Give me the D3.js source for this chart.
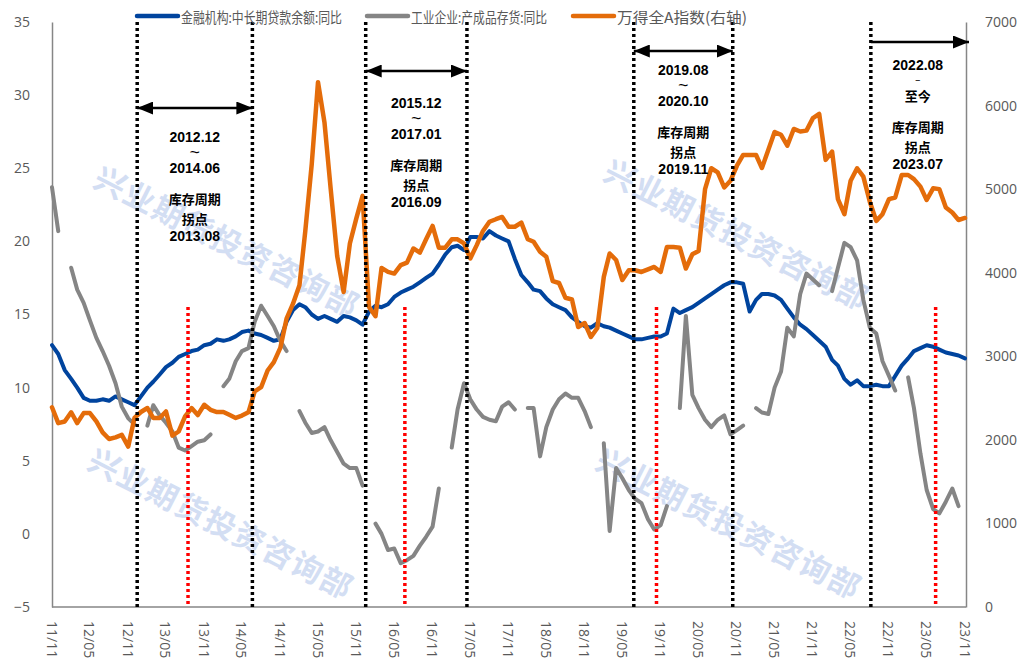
<!DOCTYPE html>
<html>
<head>
<meta charset="utf-8">
<script src="https://cdn.jsdelivr.net/npm/d3@7"></script>
<style>
  html, body { margin: 0; padding: 0; background: #ffffff; }
  svg { display: block; }
</style>
</head>
<body>
<svg id="chart" width="1023" height="664"></svg>
<script>
// 月度数据：2011-11 至 2023-11
const startMonth = new Date(2011, 10, 1);
const endMonth = new Date(2023, 10, 1);

// 金融机构:中长期贷款余额:同比 (%)
const loanGrowth = [
  12.9,12.3,11.2,10.6,10.0,9.3,9.1,9.1,9.2,9.1,
  9.4,9.2,9.0,8.8,9.4,10.0,10.4,10.9,11.4,11.7,
  12.1,12.3,12.5,12.6,12.9,13.0,13.3,13.2,13.3,13.5,
  13.8,13.9,13.7,13.6,13.4,13.2,13.3,14.5,15.3,15.7,
  15.5,15.0,14.7,14.9,14.7,14.5,14.9,14.8,14.6,14.3,
  15.2,15.6,15.5,15.7,16.2,16.5,16.7,16.9,17.2,17.5,
  17.8,18.4,19.1,19.6,19.7,19.4,20.3,20.3,20.2,20.7,
  20.4,20.2,20.0,18.8,17.7,17.2,16.7,16.6,16.1,15.7,
  15.5,15.3,14.8,14.5,14.2,14.1,14.4,14.2,14.1,13.9,
  13.7,13.5,13.3,13.3,13.4,13.5,13.5,13.7,15.4,15.1,
  15.3,15.5,15.8,16.1,16.4,16.7,17.0,17.2,17.2,17.1,
  15.2,16.0,16.4,16.4,16.3,16.0,15.4,14.8,14.3,14.0,
  13.6,13.2,12.8,11.9,11.5,10.6,10.2,10.5,10.1,10.1,
  10.2,10.1,10.1,10.8,11.5,12.0,12.5,12.7,12.9,12.8,
  12.6,12.4,12.3,12.2,12.0
];

// 工业企业:产成品存货:同比 (%)，1月无数据
const inventoryGrowth = [
  23.7,20.7,null,18.2,16.7,15.8,14.6,13.4,12.5,11.5,
  10.3,8.7,7.9,7.5,null,7.4,8.8,8.1,7.6,7.0,
  5.9,5.7,6.0,6.3,6.4,6.8,null,10.1,10.6,11.8,
  12.5,12.7,14.5,15.6,14.9,14.2,13.2,12.5,null,8.4,
  7.6,6.9,7.0,7.3,6.4,5.6,4.8,4.5,4.5,3.3,
  null,0.7,0.0,-1.1,-1.0,-2.0,-1.8,-1.5,-0.8,-0.2,
  0.5,3.1,null,5.9,8.5,10.3,9.2,8.5,8.0,7.8,
  7.7,8.7,9.0,8.5,null,8.6,8.6,5.3,7.3,8.5,
  9.2,9.6,9.3,9.3,8.4,7.3,null,6.2,0.2,4.5,
  3.8,3.0,2.4,2.1,1.0,0.3,0.6,1.9,null,8.6,
  14.9,9.5,8.6,7.8,7.3,7.8,8.1,6.8,7.1,7.4,
  null,8.6,8.3,8.2,10.0,11.1,14.1,13.5,16.4,17.8,
  17.4,17.0,null,16.6,18.2,19.9,19.6,18.7,16.0,14.1,
  13.7,11.8,10.8,9.8,null,10.7,8.6,5.5,3.0,1.7,
  1.4,2.2,3.1,1.9,null
];

// 万得全A指数（右轴）
const windAIndex = [
  2390,2200,2220,2330,2200,2320,2320,2220,2090,2010,
  2030,2060,1920,2262,2333,2381,2262,2262,2340,2050,
  2100,2280,2381,2297,2420,2360,2333,2333,2300,2262,
  2290,2330,2580,2630,2830,2930,3100,3450,3630,3850,
  4500,5300,6280,5800,5000,4200,3770,4350,4650,4920,
  3590,3480,4057,4010,3990,4090,4120,4290,4240,4400,
  4560,4300,4300,4400,4400,4350,4170,4330,4500,4610,
  4640,4667,4550,4550,4600,4400,4370,4250,4190,3900,
  3877,3700,3680,3350,3398,3231,3338,3950,4230,4152,
  3913,4030,4030,4009,4040,4069,4009,4308,4308,4300,
  4050,4220,4260,5000,5250,5200,5020,5100,5280,5409,
  5409,5409,5253,5470,5684,5650,5520,5720,5690,5700,
  5850,5900,5350,5450,4880,4700,5100,5250,5150,4850,
  4620,4700,4880,4900,5169,5169,5120,5030,4870,5010,
  5000,4780,4720,4631,4655
];

// 坐标轴刻度
const xTickLabels = ["11/11","12/05","12/11","13/05","13/11","14/05","14/11","15/05","15/11",
  "16/05","16/11","17/05","17/11","18/05","18/11","19/05","19/11","20/05","20/11",
  "21/05","21/11","22/05","22/11","23/05","23/11"];
const leftTicks = [-5, 0, 5, 10, 15, 20, 25, 30, 35];
const rightTicks = [0, 1000, 2000, 3000, 4000, 5000, 6000, 7000];

// 库存周期区间（起点、终点、拐点标记所在位置）及说明文字
const cycleStarts = ["2012-12-14", "2015-12-16", "2019-06-25", "2022-08-06"];
const cycleEnds   = ["2014-06-20", "2017-04-15", "2020-10-12", null];
const turnMarks   = ["2013-08-15", "2016-06-21", "2019-10-12", "2023-06-13"];
const cycleRanges = [["2012.12", "~", "2014.06"], ["2015.12", "~", "2017.01"], ["2019.08", "~", "2020.10"], ["2022.08", "~", "至今"]];
const turnLabels  = ["2013.08", "2016.09", "2019.11", "2023.07"];

const seriesNames = ["金融机构:中长期贷款余额:同比", "工业企业:产成品存货:同比", "万得全A指数(右轴)"];
const watermarkText = "兴业期货投资咨询部";

// ---------------------------------------------------------------------------
const months = d3.timeMonth.range(startMonth, d3.timeMonth.offset(endMonth, 1));
const parseDay = d3.timeParse("%Y-%m-%d");
const parseTick = d3.timeParse("%y/%m");

const plot = { left: 52, right: 965, top: 22, bottom: 607 };
const colors = { loan: "#00449e", inv: "#858585", idx: "#e46c0a", axis: "#868686", text: "#595959" };

const svg = d3.select("#chart");

const x = d3.scaleTime().domain([startMonth, endMonth]).range([plot.left, plot.right]);
const yL = d3.scaleLinear().domain([-5, 35]).range([plot.bottom, plot.top]);
const yR = d3.scaleLinear().domain([0, 7000]).range([plot.bottom, plot.top]);

// 水印
const wmLayer = svg.append("g");
[[228, 240], [222, 522], [738, 233], [730, 522]].forEach(([cx, cy]) => {
  wmLayer.append("text")
    .attr("transform", `translate(${cx},${cy}) rotate(27)`)
    .attr("text-anchor", "middle")
    .attr("dominant-baseline", "central")
    .attr("font-family", "'Noto Sans CJK SC', sans-serif")
    .attr("font-weight", 700)
    .attr("font-size", 31)
    .attr("letter-spacing", 1.5)
    .attr("fill", "#bccdee")
    .attr("opacity", 0.65)
    .text(watermarkText);
});

// 坐标轴
const axisFont = "'Open Sans', 'DejaVu Sans', sans-serif";
function styleAxis(g) {
  g.select(".domain").attr("stroke", colors.axis).attr("stroke-width", 1.5);
  g.selectAll(".tick line").remove();
  g.selectAll(".tick text").attr("fill", colors.text).attr("font-size", 14).attr("font-family", axisFont);
}
svg.append("g").attr("transform", `translate(${plot.left},0)`)
  .call(d3.axisLeft(yL).tickValues(leftTicks).tickFormat(d3.format("d")).tickSize(0).tickPadding(22))
  .call(styleAxis);
svg.append("g").attr("transform", `translate(${plot.right + 1},0)`)
  .call(d3.axisRight(yR).tickValues(rightTicks).tickFormat(d3.format("d")).tickSize(0).tickPadding(19))
  .call(styleAxis);
const xAxisG = svg.append("g").attr("transform", `translate(0,${plot.bottom})`)
  .call(d3.axisBottom(x).tickValues([]).tickSize(0).tickSizeOuter(0))
  .call(styleAxis);
xAxisG.select(".domain").attr("d", `M${plot.left},0H${plot.right + 1}`);

// 横轴标签（竖排）
svg.append("g").selectAll("text").data(xTickLabels).join("text")
  .attr("transform", d => `translate(${x(parseTick(d))},${plot.bottom + 14}) rotate(90)`)
  .attr("dominant-baseline", "central")
  .attr("text-anchor", "start")
  .attr("font-family", axisFont)
  .attr("font-size", 14)
  .attr("fill", colors.text)
  .text(d => d);

// 折线
const lineL = d3.line().defined(d => d.v != null).x(d => x(d.t)).y(d => yL(d.v));
const lineR = d3.line().x(d => x(d.t)).y(d => yR(d.v));
const toPts = arr => months.map((t, i) => ({ t, v: arr[i] }));

svg.append("path").attr("d", lineL(toPts(loanGrowth)))
  .attr("fill", "none").attr("stroke", colors.loan).attr("stroke-width", 4)
  .attr("stroke-linejoin", "round").attr("stroke-linecap", "round");
svg.append("path").attr("d", lineL(toPts(inventoryGrowth)))
  .attr("fill", "none").attr("stroke", colors.inv).attr("stroke-width", 4)
  .attr("stroke-linejoin", "round").attr("stroke-linecap", "round");
svg.append("path").attr("d", lineR(toPts(windAIndex)))
  .attr("fill", "none").attr("stroke", colors.idx).attr("stroke-width", 4.5)
  .attr("stroke-linejoin", "round").attr("stroke-linecap", "round");

// 区间分隔虚线
const ann = svg.append("g");
const boundaries = cycleStarts.concat(cycleEnds.filter(d => d));
ann.selectAll("line.bound").data(boundaries).join("line")
  .attr("class", "bound")
  .attr("x1", d => x(parseDay(d))).attr("x2", d => x(parseDay(d)))
  .attr("y1", plot.top).attr("y2", plot.bottom)
  .attr("stroke", "#000").attr("stroke-width", 3.5).attr("stroke-dasharray", "3,3");

// 拐点红色虚线
ann.selectAll("line.turn").data(turnMarks).join("line")
  .attr("class", "turn")
  .attr("x1", d => x(parseDay(d))).attr("x2", d => x(parseDay(d)))
  .attr("y1", 307).attr("y2", plot.bottom)
  .attr("stroke", "#ff0000").attr("stroke-width", 3.5).attr("stroke-dasharray", "3,3");

// 箭头
const defs = svg.append("defs");
defs.append("marker").attr("id", "ahEnd").attr("viewBox", "0 0 16 13")
  .attr("refX", 16).attr("refY", 6.5).attr("markerWidth", 16).attr("markerHeight", 13)
  .attr("markerUnits", "userSpaceOnUse").attr("orient", "auto")
  .append("path").attr("d", "M0,0L16,6.5L0,13Z").attr("fill", "#000");
defs.append("marker").attr("id", "ahStart").attr("viewBox", "0 0 16 13")
  .attr("refX", 0).attr("refY", 6.5).attr("markerWidth", 16).attr("markerHeight", 13)
  .attr("markerUnits", "userSpaceOnUse").attr("orient", "auto")
  .append("path").attr("d", "M16,0L0,6.5L16,13Z").attr("fill", "#000");

// 说明文字：数字用 Liberation Sans，中文用 Noto Sans CJK，按视觉中心定位
const isCJK = s => /[\u4e00-\u9fff]/.test(s);
function note(cx, cy, s, fs, opts = {}) {
  const cjk = isCJK(s);
  const t = ann.append("text")
    .attr("x", cx)
    .attr("y", cy + fs * (cjk ? 0.38 : 0.36))
    .attr("text-anchor", "middle")
    .attr("font-family", cjk ? "'Noto Sans CJK SC', sans-serif" : "'Liberation Sans', Arial, sans-serif")
    .attr("font-weight", 700)
    .attr("font-size", fs)
    .attr("fill", "#000")
    .text(s);
  if (opts.width) t.attr("textLength", opts.width).attr("lengthAdjust", "spacingAndGlyphs");
  return t;
}

const arrowY = [108, 71, 51, 42];
const textTop = [137, 103, 70, 65];
cycleStarts.forEach((s, i) => {
  const x0 = x(parseDay(s));
  const x1 = cycleEnds[i] ? x(parseDay(cycleEnds[i])) : plot.right + 4;
  ann.append("line")
    .attr("x1", x0).attr("x2", x1).attr("y1", arrowY[i]).attr("y2", arrowY[i])
    .attr("stroke", "#000").attr("stroke-width", 2.5)
    .attr("marker-start", cycleEnds[i] ? "url(#ahStart)" : null)
    .attr("marker-end", "url(#ahEnd)");

  const cx = cycleEnds[i] ? (x0 + x1) / 2 : x0 + 47;
  const t0 = textTop[i];
  const last = i === 3;
  note(cx, t0, cycleRanges[i][0], 14);
  note(cx, t0 + 15, cycleRanges[i][1], last ? 8 : 11, { width: last ? 5 : 10 });
  note(cx, t0 + 31, cycleRanges[i][2], isCJK(cycleRanges[i][2]) ? 13 : 14);
  note(cx, t0 + 62, "库存周期", 13);
  note(cx, t0 + 82, "拐点", 13);
  note(cx, t0 + 99, turnLabels[i], 14);
});

// 图例
const legend = svg.append("g");
const legendItems = [
  { name: seriesNames[0], color: colors.loan, x: 137, w: 161 },
  { name: seriesNames[1], color: colors.inv, x: 367, w: 136 },
  { name: seriesNames[2], color: colors.idx, x: 573, w: 130 }
];
legendItems.forEach(d => {
  legend.append("line").attr("x1", d.x).attr("x2", d.x + 41).attr("y1", 16).attr("y2", 16)
    .attr("stroke", d.color).attr("stroke-width", 4.5).attr("stroke-linecap", "round");
  legend.append("text").attr("x", d.x + 44).attr("y", 16)
    .attr("dominant-baseline", "central")
    .attr("font-family", "'Noto Sans CJK SC', sans-serif")
    .attr("font-size", 15).attr("fill", colors.text)
    .attr("textLength", d.w).attr("lengthAdjust", "spacingAndGlyphs")
    .text(d.name);
});
</script>
</body>
</html>
